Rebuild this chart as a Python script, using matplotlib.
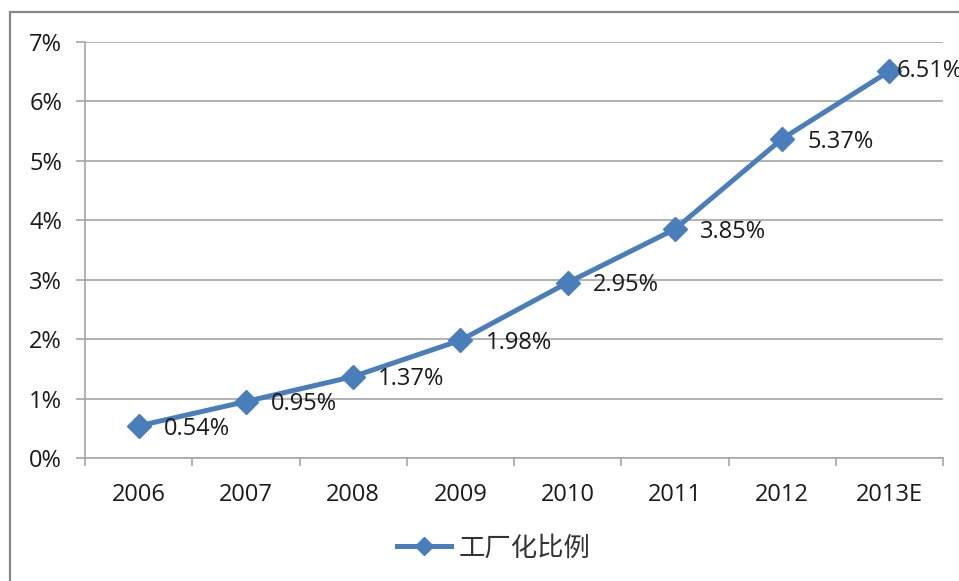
import matplotlib
matplotlib.use("Agg")
import matplotlib.pyplot as plt
from matplotlib.patches import Rectangle

plt.rcParams['font.family'] = ['Open Sans', 'Noto Sans CJK SC', 'DejaVu Sans']

years = ["2006", "2007", "2008", "2009", "2010", "2011", "2012", "2013E"]
ratio = [0.54, 0.95, 1.37, 1.98, 2.95, 3.85, 5.37, 6.51]
y_ticks = [0, 1, 2, 3, 4, 5, 6, 7]
series_name = "工厂化比例"

W, H = 959, 581
fig = plt.figure(figsize=(W / 100, H / 100), dpi=100)
fig.patch.set_facecolor("white")

# outer chart frame (right/bottom edges fall outside the canvas)
fig.add_artist(Rectangle((10 / W, -0.1), 1.2, 1.1 - 12 / H, transform=fig.transFigure,
                         fill=False, edgecolor="#868686", linewidth=1.6))

ax = fig.add_axes([85 / W, 1 - 458 / H, (943 - 85) / W, (458 - 42) / H])
line_color = "#4A7EBB"
grid_color = "#A6A6A6"
text_color = "#1a1a1a"
fs = 17

x = list(range(len(years)))
ax.plot(x, ratio, color=line_color, linewidth=3.6, marker="D", markersize=12,
        markerfacecolor=line_color, markeredgecolor=line_color, label=series_name,
        clip_on=False, zorder=3)

for i, (xi, v) in enumerate(zip(x, ratio)):
    # the last label is pulled in so it stays inside the chart
    dx = 5 if i == len(ratio) - 1 else 18
    dy = 0 if i == len(ratio) - 1 else -2
    ax.annotate(f"{v:.2f}%", (xi, v), xytext=(dx, dy), textcoords="offset points",
                ha="left", va="center", fontsize=fs, color=text_color, zorder=4,
                annotation_clip=False)

ax.set_xlim(-0.5, len(years) - 0.5)
ax.set_ylim(0, 7)
ax.set_yticks(y_ticks)
ax.set_yticklabels([f"{t}%" for t in y_ticks])
ax.yaxis.grid(True, color=grid_color, linewidth=1.2)
ax.set_axisbelow(True)

ax.set_xticks(x)
ax.set_xticklabels(years)
ax.set_xticks([i - 0.5 for i in range(len(years) + 1)], minor=True)
ax.tick_params(axis="x", which="major", length=0, pad=18, labelsize=fs, colors=text_color)
ax.tick_params(axis="x", which="minor", length=6, width=1.2, color=grid_color, direction="out")
ax.tick_params(axis="y", length=6.5, width=1.2, color=grid_color, direction="out",
               pad=10, labelsize=fs, colors=text_color)

for side in ("top", "right"):
    ax.spines[side].set_visible(False)
for side in ("left", "bottom"):
    ax.spines[side].set_color(grid_color)
    ax.spines[side].set_linewidth(1.2)

leg = fig.legend(loc="center", bbox_to_anchor=(494 / W, 1 - 548 / H), frameon=False,
                 handlelength=2.05, handletextpad=0.3, markerscale=0.75,
                 prop={"family": ["Noto Sans CJK SC", "DejaVu Sans"], "size": 19})
for t in leg.get_texts():
    t.set_color("#333333")

fig.savefig("out.png", dpi=100, facecolor="white")
